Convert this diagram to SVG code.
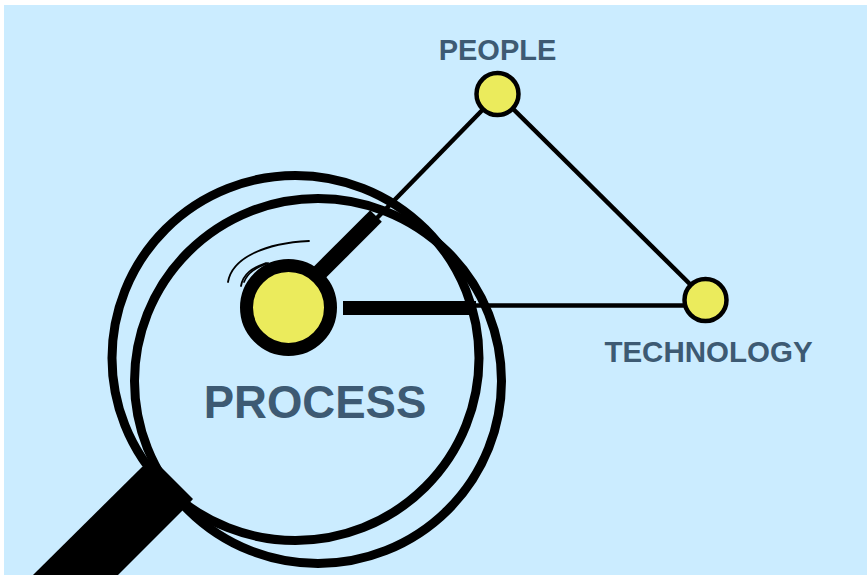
<svg xmlns="http://www.w3.org/2000/svg" width="867" height="575" viewBox="0 0 867 575">
<style>
.lens{fill:none;stroke:#000;stroke-width:9}
.link{fill:none;stroke:#000;stroke-width:4.500}
.thick{fill:none;stroke:#000;stroke-width:14}
.arc{fill:none;stroke:#000;stroke-width:1.800;stroke-linecap:round}
.small{fill:#ebeb5c;stroke:#000;stroke-width:4.500}
.label{font-family:"Liberation Sans",Arial,sans-serif;font-weight:700;fill:#3d5a73}
</style>
<rect x="4" y="5" width="863" height="570" fill="#cbecff"/>
<g id="connectors">
<line class="link" x1="498" y1="94" x2="376" y2="219"/>
<line class="link" x1="498" y1="94" x2="706" y2="300"/>
<line class="link" x1="470" y1="305.500" x2="706" y2="305.500"/>
<line class="thick" style="stroke-width:16.500" x1="376" y1="216" x2="305" y2="287"/>
<line class="thick" x1="343" y1="308" x2="476" y2="308"/>
</g>
<g id="lens">
<ellipse class="lens" cx="295.500" cy="358" rx="183.500" ry="182.500"/>
<ellipse class="lens" cx="318" cy="381" rx="183.500" ry="182.500"/>
<polygon points="33,575 142,467 157,463 193,499 183,510 118,575" fill="#000"/>
<path class="arc" d="M228 282 C232 258 265 243 309 241"/>
<path class="arc" d="M241 286 C243 274 252 268 266 263"/>
<path class="arc" d="M244 282 C248 272 256 268 268 263"/>
</g>
<g id="process">
<circle cx="288.500" cy="307.500" r="42" fill="#ebeb5c" stroke="#000" stroke-width="13"/>
<text class="label" x="315" y="418" font-size="45.500" text-anchor="middle">PROCESS</text>
</g>
<g id="people">
<circle class="small" cx="497.500" cy="94" r="21"/>
<text class="label" x="497.500" y="60" font-size="29" text-anchor="middle">PEOPLE</text>
</g>
<g id="technology">
<circle class="small" cx="705.500" cy="300" r="21"/>
<text class="label" x="708.500" y="362" font-size="29.500" text-anchor="middle">TECHNOLOGY</text>
</g>
</svg>
